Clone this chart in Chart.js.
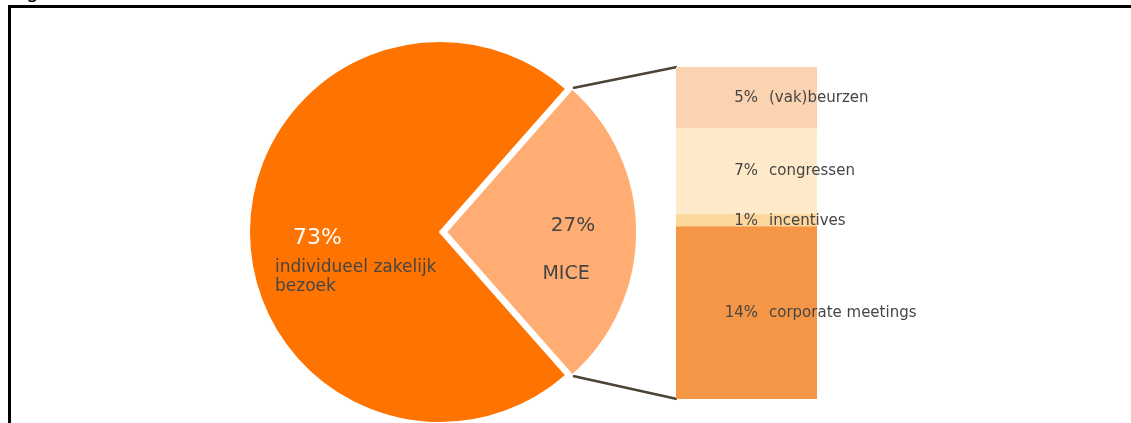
<!DOCTYPE html>
<html lang="nl">
<head>
<meta charset="utf-8">
<title>Zakelijk bezoek - MICE</title>
<script src="https://cdn.jsdelivr.net/npm/chart.js@4.4.0/dist/chart.umd.min.js"></script>
<style>
  html, body { margin: 0; padding: 0; background: #fff; }
  body { width: 1131px; height: 423px; overflow: hidden; position: relative; font-family: "DejaVu Sans", sans-serif; }
  .kop { position: absolute; left: 26px; top: -19px; font-size: 20px; line-height: 20px; color: #000; }
  .kader { position: absolute; left: 8px; top: 5px; right: 0; bottom: 0; border-top: 3px solid #000; border-left: 3px solid #000; }
  canvas { position: absolute; left: 0; top: 0; }
</style>
</head>
<body>
<div class="kop">g</div>
<div class="kader"></div>
<canvas id="pieChart" width="1131" height="423"></canvas>
<canvas id="barChart" width="1131" height="423"></canvas>
<script>
// DATOS
const sectores = [['individueel zakelijk', 'bezoek'], ['MICE']];
const sectorValores = [73, 27];
const miceCategorias = ['corporate meetings', 'incentives', 'congressen', '(vak)beurzen'];
const miceValores = [14, 1, 7, 5];

// Colores y fuente
const sectorColores = ['#FF7300', '#FFAD73'];
const miceColores = ['#F59646', '#FDD69B', '#FEE9C9', '#FBD3B0'];
const tinta = '#454545';
const fuente = '"DejaVu Sans", sans-serif';
Chart.defaults.font.family = fuente;

// Posicion de los textos de cada sector (relativa al centro del sector)
const sectorTextos = [
    { pct: { dx: -51.5, dy: 6.5, size: 22, color: '#fff', align: 'left' },
      lines: { dx: -69.5, dy: 36, gap: 18.5, size: 17, color: tinta, align: 'left' } },
    { pct: { dx: 31.5, dy: -6.5, size: 20, color: tinta, align: 'center' },
      lines: { dx: 24.5, dy: 42.5, gap: 20, size: 19, color: tinta, align: 'center' } }
];

const miceTotal = miceValores.reduce((a, b) => a + b, 0);
const total = sectorValores.reduce((a, b) => a + b, 0);

// Etiquetas de la barra apilada
const barLabels = {
    id: 'barLabels',
    afterDatasetsDraw(chart) {
        const ctx = chart.ctx;
        const x0 = chart.chartArea.left;
        ctx.save();
        ctx.font = '15px ' + fuente;
        ctx.fillStyle = tinta;
        ctx.textBaseline = 'middle';
        chart.data.datasets.forEach((ds, i) => {
            const bar = chart.getDatasetMeta(i).data[0];
            const y = (bar.y + bar.base) / 2;
            ctx.textAlign = 'right';
            ctx.fillText(ds.data[0] + '%', x0 + 82, y);
            ctx.textAlign = 'left';
            ctx.fillText(ds.label, x0 + 93, y);
        });
        ctx.restore();
    }
};

// 1. Barra MICE
const barChart = new Chart(document.getElementById('barChart'), {
    type: 'bar',
    data: {
        labels: ['MICE'],
        datasets: miceCategorias.map((cat, i) => ({
            label: cat,
            data: [miceValores[i]],
            backgroundColor: miceColores[i],
            borderWidth: 0,
            categoryPercentage: 1,
            barPercentage: 1
        }))
    },
    options: {
        responsive: false,
        animation: false,
        events: [],
        layout: { padding: { left: 676, right: 314, top: 67, bottom: 24 } },
        plugins: { legend: { display: false }, tooltip: { enabled: false } },
        scales: {
            x: { stacked: true, display: false },
            y: { stacked: true, display: false, min: 0, max: miceTotal }
        }
    },
    plugins: [barLabels]
});

// desplazamiento real que Chart.js aplica a un arco con offset
function arcShift(arc) {
    const off = (arc.options.offset || 0) / 4;
    const fix = 1 - Math.sin(Math.min(Math.PI, arc.circumference));
    const d = off * (1 + fix);
    const mid = (arc.startAngle + arc.endAngle) / 2;
    return { x: Math.cos(mid) * d, y: Math.sin(mid) * d, mid: mid };
}

// Textos del pastel y lineas hacia la barra
const pieLabels = {
    id: 'pieLabels',
    afterDatasetsDraw(chart) {
        const ctx = chart.ctx;
        const meta = chart.getDatasetMeta(0);
        ctx.save();

        // conectores
        const mice = meta.data[1];
        const s = arcShift(mice);
        const cx = mice.x + s.x, cy = mice.y + s.y;
        const topBar = barChart.getDatasetMeta(miceValores.length - 1).data[0];
        const bottomBar = barChart.getDatasetMeta(0).data[0];
        const left = barChart.chartArea.left;
        ctx.strokeStyle = '#4B4434';
        ctx.lineWidth = 2.5;
        [[mice.startAngle, topBar.y], [mice.endAngle, bottomBar.base]].forEach(([ang, yb]) => {
            ctx.beginPath();
            ctx.moveTo(cx + Math.cos(ang) * (mice.outerRadius + 1), cy + Math.sin(ang) * (mice.outerRadius + 1));
            ctx.lineTo(left + 1, yb);
            ctx.stroke();
        });

        // textos
        ctx.textBaseline = 'middle';
        meta.data.forEach((arc, i) => {
            const sh = arcShift(arc);
            const r = (arc.innerRadius + arc.outerRadius) / 2;
            const px = arc.x + sh.x + Math.cos(sh.mid) * r;
            const py = arc.y + sh.y + Math.sin(sh.mid) * r;
            const t = sectorTextos[i];
            ctx.font = t.pct.size + 'px ' + fuente;
            ctx.fillStyle = t.pct.color;
            ctx.textAlign = t.pct.align;
            ctx.fillText(sectorValores[i] + '%', px + t.pct.dx, py + t.pct.dy);
            ctx.font = t.lines.size + 'px ' + fuente;
            ctx.fillStyle = t.lines.color;
            ctx.textAlign = t.lines.align;
            sectores[i].forEach((line, j) => {
                ctx.fillText(line, px + t.lines.dx, py + t.lines.dy + j * t.lines.gap);
            });
        });
        ctx.restore();
    }
};

// 2. Pastel con el sector MICE separado
const pieChart = new Chart(document.getElementById('pieChart'), {
    type: 'pie',
    data: {
        labels: sectores,
        datasets: [{
            data: sectorValores,
            backgroundColor: sectorColores,
            borderColor: '#fff',
            borderWidth: 2,
            offset: [0, 24],
            radius: 191
        }]
    },
    options: {
        responsive: false,
        animation: false,
        events: [],
        rotation: 90 + 180 * sectorValores[1] / total,
        layout: { padding: { left: 249, right: 500, top: 41, bottom: 0 } },
        plugins: { legend: { display: false }, tooltip: { enabled: false } }
    },
    plugins: [pieLabels]
});
</script>
</body>
</html>
